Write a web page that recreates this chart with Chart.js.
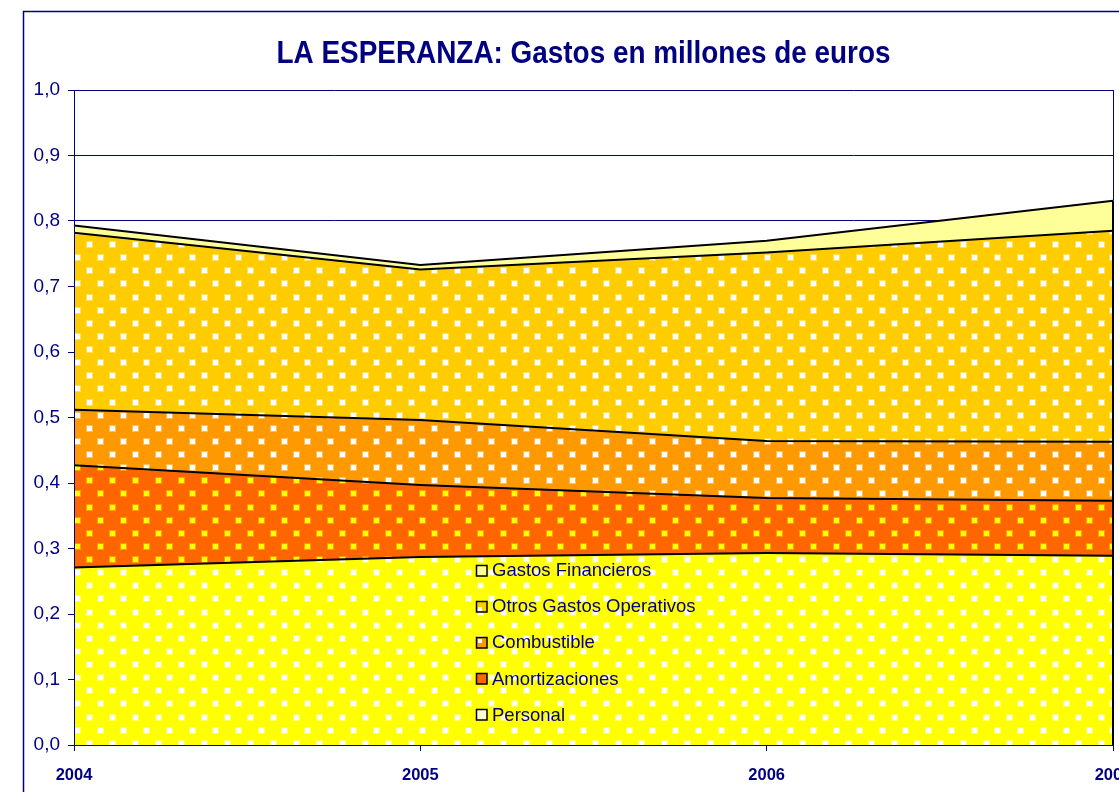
<!DOCTYPE html>
<html>
<head>
<meta charset="utf-8">
<script src="https://cdn.jsdelivr.net/npm/chart.js@4.4.1/dist/chart.umd.min.js"></script>
<style>
  html, body { margin: 0; padding: 0; background: #fff; overflow: hidden; }
  #wrap { width: 1160px; height: 792px; position: relative; }
</style>
</head>
<body>
<div id="wrap"><canvas id="c"></canvas></div>
<script>
// ---- data ----
const years = ['2004', '2005', '2006', '2007'];
const personal = [0.271, 0.287, 0.293, 0.289];
const amortizaciones = [0.156, 0.110, 0.084, 0.084];
const combustible = [0.085, 0.099, 0.087, 0.090];
const otrosGastos = [0.270, 0.230, 0.288, 0.322];
const gastosFinancieros = [0.011, 0.007, 0.018, 0.046];
const yTickLabels = ['0,0','0,1','0,2','0,3','0,4','0,5','0,6','0,7','0,8','0,9','1,0'];
const seriesNames = ['Personal', 'Amortizaciones', 'Combustible', 'Otros Gastos Operativos', 'Gastos Financieros'];
const chartTitle = 'LA ESPERANZA: Gastos en millones de euros';

const NAVY = '#000080';
const FONT = "'Liberation Sans', Arial, sans-serif";

const canvas = document.getElementById('c');
const mainCtx = canvas.getContext('2d');

function makePattern(base, dot) {
  const c = document.createElement('canvas');
  c.width = 23; c.height = 105;
  const g = c.getContext('2d');
  g.fillStyle = base; g.fillRect(0, 0, 23, 105);
  for (let k = 0; k < 8; k++) {
    const cy = k * 13.125 + 6.5;
    const cx = (k % 2 === 0) ? 5 : 16.5;
    const x0 = Math.round(cx - 2.5), y0 = Math.round(cy - 2.5);
    g.globalAlpha = 0.35;
    g.fillStyle = dot;
    g.fillRect(x0 - 1, y0 - 1, 7, 7);
    g.globalAlpha = 1;
    g.fillRect(x0, y0, 5, 5);
  }
  const p = mainCtx.createPattern(c, 'repeat');
  if (p.setTransform) p.setTransform(new DOMMatrix().translate(84, 238));
  return p;
}

const styles = [
  { fill: makePattern('#FFFF00', '#FFFFFF'), legend: '#FFFFD0', mark: null },
  { fill: makePattern('#FF6600', '#FFFF00'), legend: '#FF6600', mark: null },
  { fill: makePattern('#FF9900', '#FFFFFF'), legend: '#FF9900', mark: 'tl' },
  { fill: makePattern('#FFCC00', '#FFFFFF'), legend: '#FFCC00', mark: 'bl' },
  { fill: '#FFFF99', legend: '#FFFF99', mark: null }
];
const seriesData = [personal, amortizaciones, combustible, otrosGastos, gastosFinancieros];

const datasets = seriesData.map((d, i) => ({
  label: seriesNames[i],
  data: d,
  backgroundColor: styles[i].fill,
  borderColor: '#000000',
  borderWidth: 2,
  pointRadius: 0,
  pointHoverRadius: 0,
  tension: 0,
  fill: i === 0 ? 'origin' : '-1'
}));

const decor = {
  id: 'decor',
  beforeDraw(chart) {
    const ctx = chart.ctx;
    ctx.save();
    ctx.fillStyle = '#ffffff';
    ctx.fillRect(0, 0, chart.width, chart.height);
    ctx.strokeStyle = NAVY;
    ctx.lineWidth = 1.5;
    ctx.strokeRect(23.5, 11.5, 1200, 900);
    ctx.restore();
  },
  afterDatasetsDraw(chart) {
    const ctx = chart.ctx;
    const xs = chart.scales.x, ys = chart.scales.y;
    const last = years.length - 1;
    const xr = xs.getPixelForValue(last);
    const topMeta = chart.getDatasetMeta(seriesData.length - 1);
    const yt = topMeta.data[last].y;
    ctx.save();
    ctx.strokeStyle = NAVY;
    ctx.lineWidth = 1;
    ctx.beginPath();
    ctx.moveTo(Math.round(xr) + 0.5, ys.getPixelForValue(1));
    ctx.lineTo(Math.round(xr) + 0.5, yt);
    ctx.stroke();
    ctx.strokeStyle = '#000000';
    ctx.lineWidth = 2;
    ctx.beginPath();
    ctx.moveTo(xr, ys.getPixelForValue(0));
    ctx.lineTo(xr, yt);
    ctx.stroke();
    ctx.restore();
  },
  afterDraw(chart) {
    const ctx = chart.ctx;
    ctx.save();
    // title (slightly condensed like the original rendering)
    ctx.fillStyle = NAVY;
    ctx.font = 'bold 31px ' + FONT;
    ctx.textAlign = 'center';
    ctx.textBaseline = 'alphabetic';
    const w = ctx.measureText(chartTitle).width;
    const sx = 614 / w;
    ctx.save();
    ctx.translate(583.5, 63);
    ctx.scale(sx, 1);
    ctx.fillText(chartTitle, 0, 0);
    ctx.restore();
    // legend (reverse order)
    const ca = chart.chartArea;
    const lx = ca.left + 402;
    let ly = ca.top + 480;
    ctx.font = '18.5px ' + FONT;
    ctx.textAlign = 'left';
    ctx.textBaseline = 'middle';
    for (let i = seriesData.length - 1; i >= 0; i--) {
      const s = styles[i];
      const bx = lx, by = Math.round(ly - 5.5);
      ctx.fillStyle = s.legend;
      ctx.fillRect(bx, by, 11, 11);
      if (s.mark === 'tl') { ctx.fillStyle = '#fff'; ctx.fillRect(bx + 2, by + 2, 4, 4); }
      if (s.mark === 'bl') { ctx.fillStyle = '#fff'; ctx.fillRect(bx + 2, by + 6, 4, 4); }
      ctx.strokeStyle = '#000';
      ctx.lineWidth = 1.5;
      ctx.strokeRect(bx + 0.5, by + 0.5, 10.5, 10.5);
      ctx.fillStyle = NAVY;
      ctx.fillText(seriesNames[i], lx + 16, ly + 1);
      ly += 36.2;
    }
    ctx.restore();
  }
};

new Chart(canvas, {
  type: 'line',
  data: { labels: years, datasets },
  options: {
    responsive: true,
    maintainAspectRatio: false,
    animation: false,
    events: [],
    layout: { padding: { left: 0, right: 47, top: 90, bottom: 0 } },
    plugins: {
      legend: { display: false },
      title: { display: false },
      tooltip: { enabled: false }
    },
    scales: {
      x: {
        type: 'category',
        offset: false,
        afterFit(scale) { scale.height = 47; },
        grid: { display: true, drawOnChartArea: false, drawTicks: true, tickLength: 6, color: NAVY, lineWidth: 1 },
        border: { display: true, color: NAVY, width: 1, z: 1 },
        ticks: {
          color: NAVY,
          padding: 15,
          maxRotation: 0,
          autoSkip: false,
          font: { family: FONT, size: 16.5, weight: 'bold' }
        }
      },
      y: {
        stacked: true,
        min: 0,
        max: 1,
        afterFit(scale) { scale.width = 74; },
        grid: { color: NAVY, lineWidth: 1, tickLength: 6, drawTicks: true },
        border: { display: true, color: NAVY, width: 1, z: 1 },
        ticks: {
          stepSize: 0.1,
          color: NAVY,
          padding: 8,
          font: { family: FONT, size: 19 },
          callback: (v, i) => yTickLabels[i]
        }
      }
    }
  },
  plugins: [decor]
});
</script>
</body>
</html>
